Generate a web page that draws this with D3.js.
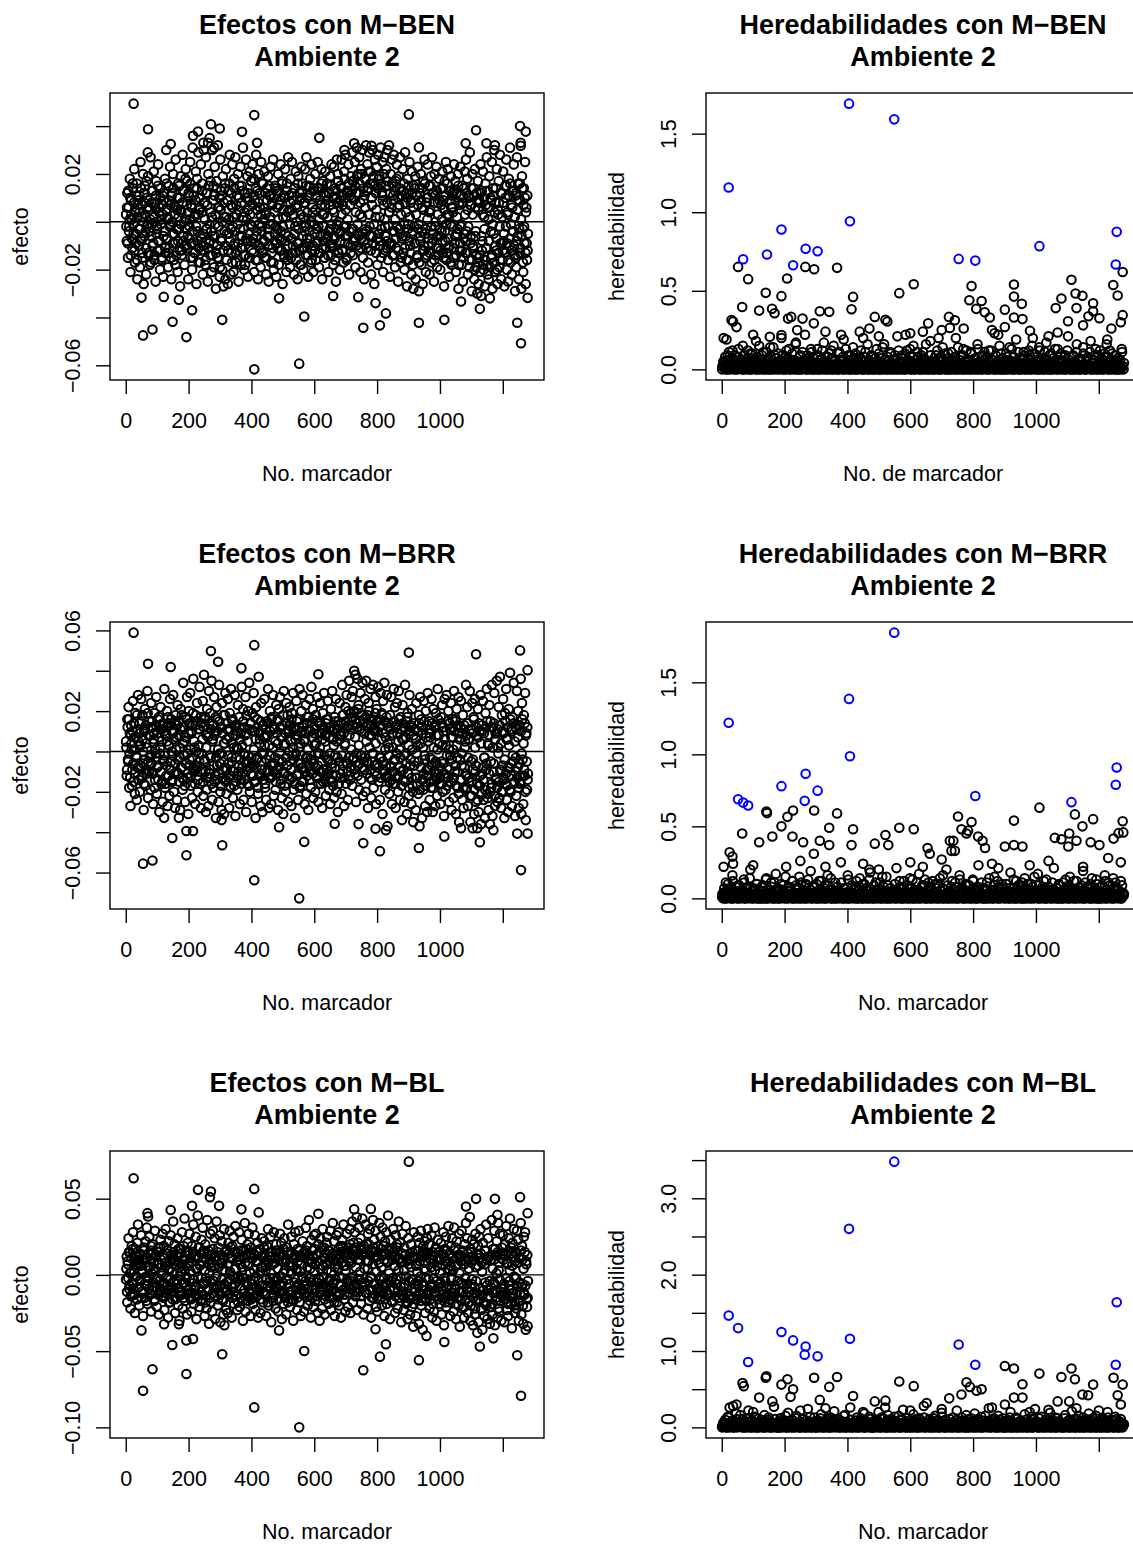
<!DOCTYPE html>
<html>
<head>
<meta charset="utf-8">
<script src="https://cdn.jsdelivr.net/npm/d3@7"></script>
<style>
  body { margin: 0; background: #fff; }
</style>
</head>
<body>
<script>
var width = 1133,
    height = 1545;

var FONT = "'Liberation Sans', Arial, Helvetica, sans-serif";

// markers 1..nMarkers; "A" arrays start at marker 1, "B" arrays at marker 2
var nMarkers = 1280;
var effStep = 2, herStep = 3;

// ---- effects, units of 0.001 ----
var benEffA = [
3,-8,12,-15,6,-2,18,-21,9,1,-11,14,-5,22,-17,4,-9,16,-24,7,
-3,11,-19,25,-7,2,-13,20,-26,8,15,-4,-22,10,-1,19,-14,5,-18,27,
-6,13,-10,3,21,-16,8,-25,17,-2,-12,24,-8,6,-20,14,1,-15,11,-23,
9,-4,18,-13,30,-7,2,-19,15,-11,23,-1,-24,12,-5,20,-16,7,-9,26,
-14,5,-21,16,-3,10,-27,19,4,-12,28,-8,13,-18,1,22,-10,17,-6,-24,
11,-2,25,-15,7,-20,31,-9,14,-13,3,21,-26,18,-4,29,-11,6,-17,24,
-7,16,-22,33,-12,8,-18,27,-3,12,-25,20,-9,35,-14,4,-21,30,-6,15,
-19,23,-1,-28,17,-10,32,-15,6,-23,26,-8,11,-20,19,-27,2,14,-24,22,
-16,9,-26,13,-5,28,-22,7,-13,24,-2,-21,18,-9,27,-17,3,-12,20,-25,
10,-6,23,-18,15,-11,31,-3,-20,12,-14,26,-8,19,-23,5,-15,21,-1,17,
-12,24,-7,18,-21,9,-16,28,-4,13,-24,20,-10,6,-19,25,-2,-13,16,-8,
21,-15,3,-22,14,-6,19,-25,11,-1,23,-17,8,-11,26,-20,4,15,-9,-23,
13,-3,20,-18,7,-12,24,-8,17,-26,2,11,-15,22,-5,-21,16,-10,27,-14,
5,-19,18,-7,25,-13,9,-22,14,-2,21,-16,6,-24,19,-9,12,-18,3,23,
-11,16,-20,8,-4,22,-14,27,-7,10,-23,15,-1,18,-17,24,-12,4,-21,13,
-5,20,-16,11,-9,25,-2,-19,14,-13,7,22,-24,17,-8,3,-15,21,-11,9,
16,-6,-21,12,-3,19,-14,24,-10,5,-18,23,-7,14,-25,10,-1,20,-13,8,
-20,15,-4,26,-12,7,-17,21,-9,28,-2,-16,13,-6,24,-22,11,-10,19,-3,
29,-14,17,-8,25,-19,12,31,-5,20,-12,27,3,-21,22,-7,30,-15,9,-24,
18,-3,32,-11,24,-17,14,29,-6,21,-22,10,30,-9,16,-26,26,2,-13,23,
-18,28,-5,19,-10,31,-15,12,25,-21,7,27,-2,-12,22,-8,30,-16,15,4,
-23,20,-9,26,-14,11,28,-4,-19,17,-11,24,6,-25,19,-3,27,-17,13,-7,
22,-13,16,-20,29,-6,12,-27,18,-1,-16,25,-10,8,-22,21,-4,-28,15,-9,
19,-24,11,-15,23,-3,-29,14,-8,20,-18,6,-26,17,-12,26,-5,-21,10,-14,
24,-10,15,-22,5,19,-17,27,-7,12,-25,20,-2,-14,23,-19,8,-11,18,-6,
-20,14,-4,21,-13,9,-27,17,-8,25,-16,3,22,-11,-23,13,-1,19,-18,11,
6,-15,24,-9,17,-21,12,-5,20,-28,8,-12,23,-2,-18,15,-25,10,-7,21,
-13,26,-4,18,-22,11,-16,29,-9,7,-29,20,-11,14,-24,22,-6,-19,12,-30,
17,-26,9,-14,24,-31,13,-8,21,-20,2,-27,16,-11,27,-18,6,-24,19,-32,
10,-15,25,-28,14,-5,30,-21,8,-12,22,-26,3,17,-19,28,-9,-24,12,-16,
21,-8,-27,15,-13,26,-20,4,-25,18,-10,31,-17,7,-22,13,-4,24,-14,-29,
11,-19,27,-6,16,-24,9,-13,33,-28,19,-3,-21,14,-9,25,-26,6,-16,-12
];
var benEffB = [
-2,6,-9,13,-4,1,10,-14,3,-7,16,-1,8,-12,5,-5,11,-16,2,9,
-10,4,-3,14,-8,7,-15,0,12,-6,3,-11,17,-2,6,-13,9,-4,1,-17,
8,-1,13,-9,2,-14,6,11,-5,-3,15,-8,4,-12,10,-1,-16,7,3,-6,
12,-4,-11,5,16,-7,1,-13,9,-2,7,-15,11,0,-9,14,-5,3,-18,6,
-3,10,-8,2,15,-12,5,-1,-14,8,13,-6,0,-10,18,-3,7,-11,4,12,
-7,1,16,-9,6,-4,-15,11,2,-13,9,-2,14,-8,3,-17,10,5,-6,-12,
4,13,-5,-10,8,1,-16,12,-3,7,-11,15,-1,-8,17,-4,2,-14,9,-9,
11,-6,3,-13,14,-15,6,-2,10,-19,5,13,-7,0,-12,8,-4,16,-10,2,
-5,9,-12,1,16,-8,-3,12,-17,6,2,-10,14,-4,-13,7,11,-1,-9,5,
15,-3,-11,8,-6,13,2,-14,4,-18,10,-7,1,12,-5,-15,9,3,-8,17,
-2,7,-13,11,0,-9,14,-6,5,-16,8,-1,12,-11,3,-4,16,-12,6,1,
-8,12,4,-15,9,-3,-10,15,-6,2,11,-13,7,-1,-17,10,-5,14,-2,-9,
6,-11,1,13,-7,9,-4,-12,16,-2,5,-14,10,-8,2,13,-16,4,-6,11,
-1,8,-15,5,12,-10,3,-5,14,-13,7,0,-9,16,-3,-12,9,1,-18,10,
13,-6,2,-11,8,-2,15,-9,4,-14,11,-4,-7,12,0,-16,6,-10,14,-1,
-12,5,10,-3,-8,14,-13,1,9,-6,16,-11,3,-2,12,-15,7,-5,11,-7,
2,-14,12,-4,7,-9,15,-1,-11,10,-6,4,-16,13,-3,8,-12,17,0,-5,
9,-8,14,3,-12,11,-2,18,-6,5,-15,12,1,-9,16,-4,7,-13,10,13,
17,-3,9,-7,15,4,-10,19,-1,12,-6,16,8,-11,20,2,-5,14,-8,11,
6,18,-4,13,-9,21,3,-2,16,-12,10,7,-6,19,-1,15,-10,12,5,-7,
14,-5,18,2,-8,16,-3,11,9,-13,20,1,-6,15,-11,8,17,-2,4,-9,
12,-10,6,16,-4,9,-14,13,1,-7,18,-2,10,-12,7,14,-5,3,-15,11,
-6,13,-1,-11,8,4,-16,10,-3,15,-8,2,-13,9,-5,12,-18,6,-2,14,
-9,3,11,-14,7,-1,-17,12,-6,9,-4,14,-12,5,-10,16,-3,-15,8,1,
10,-7,4,-13,15,-2,-9,12,-5,8,-16,11,0,-11,13,-6,3,-14,9,-3,
-12,7,1,-8,14,-15,5,-4,11,-1,-13,16,-7,3,-10,9,-17,6,-2,12,
4,-11,13,-6,9,-14,2,-3,15,-18,7,-9,11,-1,-12,8,-15,14,-5,3,
-8,12,-13,5,-2,10,-19,7,-6,14,-16,3,-10,11,-20,6,-4,-14,9,-17,
5,-15,8,-21,12,-6,-12,3,-18,10,-3,-16,7,-11,13,-22,1,-8,6,-19,
-4,9,-14,-1,11,-17,4,-10,14,-7,-20,5,-13,8,-2,-16,12,-9,2,-12,
8,-5,-13,10,-2,15,-9,3,-16,11,-7,16,-1,-12,6,-4,13,-10,2,-15,
12,-8,5,-14,9,-3,16,-11,1,-6,14,-17,7,-2,10,-13,4,-9,11,-5
];
var benEffExtra = [
[25,0.0494],[71,0.0387],[409,0.0446],[901,0.0449],[616,0.0351],[1115,0.0383],[1255,0.0400],
[1273,0.0377],[271,0.0408],[299,0.0390],[230,0.0377],[214,0.0360],[370,0.0376],[143,0.0325],
[727,0.0328],[782,0.0318],[838,0.0320],[933,0.0311],[1082,0.0328],[1148,0.0328],[1175,0.0320],
[1257,0.0318],[672,0.0260],[70,0.0290],[262,0.0330],[248,0.0300],[281,0.0310],[418,0.0330],[696,0.0300],
[409,-0.0617],[552,-0.0593],[55,-0.0475],[85,-0.0450],[149,-0.0418],[193,-0.0482],[307,-0.0410],
[568,-0.0396],[756,-0.0443],[809,-0.0433],[828,-0.0383],[933,-0.0422],[1014,-0.0410],[1246,-0.0422],
[1258,-0.0508],[1279,-0.0318],[1127,-0.0364],[1067,-0.0333],[795,-0.0340],[488,-0.0320],[50,-0.0317],
[121,-0.0314],[169,-0.0326],[211,-0.0370],[740,-0.0315],[660,-0.0310]
];

var brrEffA = [
5,-12,16,-4,22,-18,9,-27,13,1,-9,25,-15,7,-21,19,-2,-24,11,28,
-8,14,-20,3,26,-13,18,-6,-29,10,21,-17,4,-11,30,-23,8,15,-3,-19,
24,-10,12,-26,6,19,-14,-1,27,-21,9,-7,17,-30,2,22,-16,11,-25,13,
-5,31,-18,8,-12,20,-27,14,3,-22,26,-9,16,-15,-2,28,-20,10,-28,18,
7,-24,23,-11,15,-3,-29,21,-8,12,-19,34,-14,5,-25,17,-6,27,-13,-31,
20,-4,29,-17,9,-23,13,36,-10,2,-26,18,-7,24,-20,11,-1,32,-16,-28,
14,-9,25,-22,38,-5,17,-30,8,21,-13,-27,30,-11,19,-3,35,-24,6,-18,
27,-15,10,-33,22,-7,16,-25,33,-1,-20,12,-29,24,-9,18,-31,4,29,-14,
-21,11,26,-6,-28,19,-12,31,-3,15,-23,8,-17,28,-32,13,2,-19,23,-10,
17,-26,6,-14,32,-8,21,-24,12,-2,27,-30,9,-16,20,-5,34,-20,14,-11,
-25,19,-7,29,-15,10,-33,22,-4,16,-21,37,-12,6,-27,24,-9,-30,13,-1,
26,-18,8,-24,15,-10,31,-28,3,20,-13,-26,17,-6,28,-22,11,-3,-19,23,
-9,16,-29,21,-4,27,-16,7,-23,13,-31,30,-11,4,-20,24,-7,18,-25,10,
22,-14,5,-27,19,-2,29,-19,12,-33,8,25,-12,16,-24,2,31,-17,-6,20,
-15,28,-8,13,-26,6,23,-21,17,-3,-29,11,26,-10,-18,32,-5,21,-23,9,
3,-20,18,-12,27,-7,-25,14,-1,24,-16,9,-28,19,-9,29,-14,5,-22,16,
-11,25,-4,-19,12,-26,21,-8,30,-15,6,-23,17,-2,26,-20,11,-30,15,-5,
24,-13,8,-21,33,-10,18,-27,3,22,-16,28,-6,-24,13,35,-12,19,-8,27,
-17,30,-3,20,-11,38,-25,14,36,-7,23,-19,11,29,-14,-2,34,-22,16,-9,
26,-20,35,-5,18,-28,24,8,-13,31,-23,15,-1,33,-18,10,-10,27,-26,21,
-6,32,-15,12,-24,29,-3,19,-31,25,-9,34,-19,7,-13,28,-37,14,2,-21,
18,-8,27,-26,9,-16,31,-4,22,-28,13,24,-12,-20,30,1,-24,17,-10,-34,
23,-14,6,-25,33,-1,15,-31,19,-11,-22,28,-7,12,-26,21,-17,-35,14,-5,
11,-29,24,-13,3,-21,18,-37,27,-8,16,-33,9,-19,25,-2,-27,20,-12,-30,
29,-9,15,-24,7,-18,26,-4,-30,21,-14,12,-27,19,-6,-22,31,-11,8,-16,
-26,17,-5,23,-20,10,-32,26,-13,3,28,-17,-8,20,-25,14,-2,24,-29,12,
7,-23,30,-10,16,-31,21,-3,-18,27,-35,9,-14,25,-7,-24,18,-28,13,2,
-19,33,-12,22,-27,6,-15,30,-35,11,-22,24,-4,17,-31,26,-10,-25,8,-38,
21,-30,14,-17,28,-36,10,-11,25,-24,-3,-33,19,-9,31,-21,4,-29,23,-36,
15,-18,33,-32,12,-6,29,-27,9,-14,35,-25,2,22,-23,37,-10,-28,18,-20,
26,-13,-33,19,-16,31,-24,6,-30,21,-8,39,-20,11,-27,17,-5,34,-15,-32,
12,-22,30,-8,20,-28,13,-16,36,-31,24,-4,-26,18,-12,29,-34,9,-19,-14
];
var brrEffB = [
2,-9,12,-5,16,-1,-13,8,4,-17,10,-6,14,1,-11,7,-3,18,-8,5,
-14,9,3,-7,15,-12,6,0,-16,11,-4,13,-9,2,19,-5,-10,8,-2,12,
-6,15,-11,4,9,-18,1,13,-3,-8,16,-14,7,-1,11,-10,5,-15,14,-4,
10,-2,-16,12,-7,5,17,-12,3,-9,14,-5,0,-14,9,6,-11,15,-6,1,
-10,13,-4,8,-15,2,11,-8,18,-13,4,-2,12,-17,7,-6,16,-1,-11,9,
14,-7,1,-12,10,-3,19,-9,5,-16,13,0,-8,15,-14,3,-5,11,-10,17,
-1,6,-15,12,-4,16,-10,2,-19,9,7,-13,14,-2,-9,11,-16,5,13,-7,
8,-12,17,-3,-14,10,1,-11,15,-6,-17,12,-1,9,-13,4,-8,18,-15,6,
-9,14,-2,-13,7,11,-18,4,-5,16,-10,2,13,-15,8,-3,-12,10,1,-7,
12,-4,9,-16,3,-11,15,-1,-14,8,-6,18,-9,5,-2,-17,11,-8,14,-3,
-6,10,-12,1,17,-15,6,-8,12,-3,-18,9,4,-11,15,-5,-1,13,-14,7,
3,-16,11,-4,8,-9,14,-13,-2,10,-7,16,-12,2,-10,12,-6,5,-15,9,
-11,4,15,-8,-1,12,-14,7,-5,18,-10,3,-17,9,-3,14,-7,-12,11,0,
13,-5,-9,16,-13,2,-4,11,-16,6,-1,15,-11,8,-6,12,-18,4,10,-8,
-2,12,-15,5,9,-10,-3,14,-12,1,17,-7,-14,10,-4,7,-11,16,-6,3,
11,-8,4,-13,15,-1,-16,9,2,-10,13,-5,6,-15,11,-2,8,-12,14,-9,
-4,16,-10,7,-1,-14,12,-6,10,-17,3,11,-8,15,-12,5,-3,13,-16,8,
6,-11,14,-2,18,-7,9,-13,4,15,-5,12,-10,20,-3,8,-14,11,1,17,
13,-4,19,-9,7,16,-1,12,-12,21,3,-6,15,-2,10,18,-8,14,-5,9,
-3,17,5,-11,14,-6,20,2,-9,13,8,-14,16,-1,11,-7,19,4,-12,15,
10,-8,16,-3,13,-13,6,18,-5,9,-10,15,1,-7,17,-12,4,12,-2,-15,
-7,11,-14,8,2,-10,15,-4,-16,12,-1,9,-13,5,16,-8,-3,11,-17,6,
14,-9,-2,12,-15,7,-6,17,-11,3,-18,10,-4,13,-13,1,-20,8,-7,11,
-13,6,-1,-16,10,-5,14,-19,4,-8,12,-14,2,-11,15,-4,-17,7,-9,13,
5,-12,9,-3,-15,11,-7,14,-18,2,-10,13,-5,8,-14,1,16,-9,4,-13,
-8,14,-16,3,-6,12,-11,6,-19,10,-2,15,-13,1,-9,11,-15,7,-4,16,
1,-13,10,-7,15,-17,3,-10,13,-21,6,-4,12,-14,-1,9,-18,11,-8,5,
-11,8,-18,14,-3,-13,6,-22,11,-5,-15,9,-9,16,-19,2,-7,12,-16,-24,
7,-17,10,-12,4,-21,13,-8,-14,9,-3,-19,12,-6,15,-23,3,-11,8,-20,
-5,12,-16,2,-10,14,-22,6,-13,9,-18,11,-1,-15,13,-9,4,-20,10,-7,
9,-14,-4,15,-11,6,-17,12,-8,3,-19,16,-6,-12,10,-2,14,-16,5,-10,
-3,11,-13,7,-18,13,-6,-15,10,-1,16,-12,4,-9,14,-20,8,-5,12,-11
];
var brrEffExtra = [
[25,0.0589],[409,0.0527],[901,0.0490],[1255,0.0501],[271,0.0498],[71,0.0435],[294,0.0445],
[143,0.0419],[1115,0.0482],[1279,0.0403],[613,0.0383],[727,0.0400],[368,0.0413],
[552,-0.0728],[409,-0.0638],[1258,-0.0588],[55,-0.0556],[85,-0.0540],[193,-0.0514],[307,-0.0465],
[568,-0.0448],[148,-0.0429],[193,-0.0394],[214,-0.0394],[809,-0.0494],[756,-0.0454],[933,-0.0478],
[1127,-0.0450],[1014,-0.0421],[1246,-0.0407],[1279,-0.0407],[828,-0.0390],[795,-0.0383],[1170,-0.0390],
[1067,-0.0380],[1104,-0.0380],[488,-0.0375],[741,-0.0360],[665,-0.0358],[122,-0.0329],[169,-0.0329],[305,-0.0340]
];

var blEffA = [
-3,12,-18,7,24,-9,15,-22,2,19,-13,28,-6,9,-25,17,-1,-16,21,33,
8,-20,14,-4,26,-11,3,-27,18,10,-15,22,-7,31,-19,5,-2,25,-12,16,
-24,11,20,-8,4,-17,29,-3,13,-21,7,18,-26,15,-10,23,1,-14,27,-5,
19,-23,6,30,-12,14,-7,-28,22,3,-18,26,-9,11,-16,35,-4,20,-25,9,
13,-6,24,-20,8,-30,17,2,-13,28,-22,10,-5,37,-17,15,-1,-26,21,-10,
6,27,-15,11,-24,19,-3,33,-19,12,-8,25,-29,4,39,-13,18,-21,7,-11,
23,-16,31,-6,14,-27,20,-2,-22,36,-9,16,-32,10,27,-18,5,-24,29,-4,
-14,24,-29,12,35,-7,-20,18,-11,26,-31,8,22,-16,3,-26,30,-9,15,-23,
17,-5,-25,21,-13,29,-3,11,-28,19,-8,25,-19,4,32,-14,9,-23,14,-1,
28,-21,7,-15,23,-2,-30,16,-10,34,-24,13,-6,20,-17,27,-12,2,-27,18,
-9,31,-19,14,-4,26,-23,9,-14,21,-28,41,-11,17,-25,5,24,-7,-18,12,
22,-13,3,-27,19,-8,30,-20,12,-2,25,-31,15,-6,-17,28,-10,8,-22,20,
-4,16,-24,10,-12,27,-7,21,-29,13,1,-19,24,-15,9,-26,18,-3,33,-11,
14,-21,6,25,-16,11,-30,20,-5,28,-13,3,-23,17,-8,29,-18,12,-27,7,
-10,22,-2,-24,15,-12,31,-6,19,-20,9,36,-14,4,-28,23,-7,16,-21,26,
2,-17,27,-9,13,-25,20,-3,-30,24,-11,10,-22,30,-6,18,-26,7,-14,21,
25,-8,-19,16,-3,29,-23,12,-15,34,-5,22,-27,9,-12,26,-18,4,28,-20,
-13,19,-28,8,23,-10,33,-16,14,-24,6,27,-4,-21,18,-9,30,-25,11,-2,
35,-18,21,-7,28,-14,16,38,-23,10,-11,31,-3,24,-19,13,37,-8,-26,17,
-5,33,-12,20,-22,27,9,-17,30,-2,-28,15,-10,36,-15,23,-6,29,-21,12,
-24,19,-9,34,-16,25,-1,-20,31,-12,14,-27,22,-6,28,-19,8,39,-13,16,
-29,23,-4,17,-18,30,-10,12,-25,26,-3,20,-22,10,35,-15,21,-8,-31,14,
27,-11,-23,18,-6,32,-19,9,-29,24,-14,11,-26,20,-3,-21,15,-34,28,-9,
16,-27,7,-16,25,-4,-32,21,-12,29,-20,13,-36,19,-7,22,-25,3,-17,24,
30,-13,20,-22,10,-8,26,-28,15,-2,-24,31,-11,18,-30,6,23,-16,11,-19,
-6,21,-26,14,-10,28,-33,17,-4,25,-21,9,-14,32,-18,3,-27,19,-9,24,
12,-24,31,-7,18,-29,22,-15,7,-20,27,-34,13,-5,29,-22,16,-11,-28,20,
-17,34,-9,24,-25,10,-18,38,-30,15,-6,23,-33,20,-12,-26,27,-4,14,-38,
19,-31,25,-13,30,-22,8,-36,21,-10,-27,16,-19,33,-7,-29,24,-15,12,-32,
10,-21,36,-26,17,-5,29,-33,13,-17,22,-28,34,3,-24,27,-11,-30,18,-14,
26,-9,-31,20,-16,32,-23,7,-27,24,-4,37,-19,14,-35,21,-12,30,-20,-25,
15,-22,29,-8,23,-30,11,-17,34,-26,19,-6,-32,25,-13,28,-36,7,-21,-15
];
var blEffB = [
4,-11,9,-2,15,-7,1,-14,11,-5,17,-9,3,-13,7,-1,12,-16,6,10,
-8,13,-3,6,-15,10,2,-12,16,-6,8,-1,-17,11,-4,14,-9,5,-13,19,
1,-10,14,-5,9,-16,3,12,-8,-2,15,-13,7,-4,18,-11,5,-7,13,-15,
11,-6,-14,8,-1,16,-10,4,-18,9,-3,13,-12,2,-8,15,-5,10,-16,6,
-4,12,-9,17,-13,5,-1,14,-11,7,-6,19,-15,3,10,-8,-2,16,-12,8,
13,-5,2,-16,9,-12,15,-3,-10,12,-7,4,-14,11,-1,18,-9,6,-17,14,
-2,9,-13,16,-6,3,-18,11,-4,14,-10,7,1,-15,13,-5,8,-12,17,-8,
6,-14,12,-1,-9,15,-16,5,10,-7,-13,13,-3,8,-17,11,-6,3,-11,16,
-10,7,-4,14,-12,2,18,-8,-15,11,-1,-11,15,-6,4,-14,9,-2,-18,12,
10,-3,16,-9,5,-17,12,-2,-12,8,-5,17,-14,6,-7,13,-11,1,14,-16,
-6,11,-15,3,13,-8,-1,16,-13,9,-4,15,-10,2,-16,12,-7,5,-11,18,
14,-12,6,-3,10,-18,8,-5,15,-9,1,12,-15,7,-2,-13,11,-8,16,-4,
-9,4,-16,12,-7,14,-1,-11,9,-5,17,-12,3,-14,10,-3,15,-18,6,-6,
8,-13,1,15,-10,6,-17,11,-2,13,-8,4,-15,9,-6,16,-12,2,-9,12,
-1,14,-7,-12,11,-4,16,-14,5,-9,13,-2,-17,10,-5,8,-15,12,-3,17,
7,-10,13,-5,-14,9,-2,15,-11,4,-8,18,-13,6,-1,11,-16,14,-7,3,
-12,16,-4,9,-15,12,2,-9,14,-6,10,-18,5,-3,13,-11,7,-14,17,-1,
11,-7,15,-2,19,-10,6,-13,12,3,-8,16,-5,14,-12,9,20,-4,8,-9,
16,-1,12,-11,18,5,-6,14,-3,21,-9,10,2,-14,17,-5,13,-8,19,4,
-7,15,-12,9,4,-4,20,-10,13,-1,16,-15,7,18,-6,11,-13,15,2,-9,
12,-14,8,-3,17,-11,5,13,-8,19,-2,10,-16,14,-5,9,-12,16,1,-10,
-4,13,-17,10,-2,15,-9,6,-14,12,-6,18,-11,3,-15,11,-1,8,-13,14,
9,-8,3,-15,13,-1,-12,10,-18,7,-4,14,-16,5,-9,12,-3,-19,11,-6,
-11,6,-14,2,-7,16,-13,9,-1,-17,12,-5,15,-10,4,-16,8,-2,13,-12,
14,-3,-10,11,-16,5,-6,13,-19,8,-12,3,-14,17,-4,10,-8,15,-11,1,
-5,10,-15,7,-13,12,-2,-18,9,-8,16,-12,4,-7,14,-16,6,-3,11,-14,
3,-12,16,-9,6,-19,11,-4,13,-15,1,-11,9,-17,12,-6,15,-21,7,-2,
-13,9,-6,14,-18,4,-11,17,-20,8,-3,12,-15,10,-8,-22,5,-12,13,-17,
6,-16,11,-9,14,-23,2,-13,9,-18,7,-5,16,-20,10,-10,-14,12,-4,-21,
-8,13,-19,4,-12,10,-6,17,-15,1,-11,15,-22,8,-3,-17,11,-9,14,-13,
10,-6,-16,13,-2,-12,8,-19,15,-7,3,-14,18,-10,6,-15,12,-1,-18,9,
-2,14,-11,8,-17,12,-5,-13,16,-8,10,-20,4,-12,15,-7,9,-16,13,-4
];
var blEffExtra = [
[901,0.0743],[25,0.0634],[409,0.0564],[230,0.0558],[271,0.0547],[268,0.0510],[1255,0.0510],
[1115,0.0499],[1175,0.0499],[1279,0.0405],[143,0.0426],[69,0.0405],[71,0.0383],[211,0.0453],
[297,0.0453],[368,0.0430],[727,0.0430],[780,0.0433],[1083,0.0449],[613,0.0401],[1183,0.0394],
[552,-0.1000],[409,-0.0869],[55,-0.0760],[1258,-0.0793],[85,-0.0619],[193,-0.0650],[756,-0.0625],
[933,-0.0559],[809,-0.0536],[1246,-0.0527],[307,-0.0520],[568,-0.0499],[828,-0.0455],[1127,-0.0470],
[148,-0.0460],[193,-0.0430],[214,-0.0420],[1014,-0.0440],[1170,-0.0416],[50,-0.0364],[488,-0.0364],
[122,-0.0324],[169,-0.0324],[314,-0.0330],[795,-0.0356],[957,-0.0400],[1279,-0.0336]
];

// ---- heritabilities, units of 0.01 ----
var benHerA = [
0,2,1,5,0,3,9,1,0,4,2,12,0,1,6,3,0,8,2,1,
3,0,15,1,4,0,2,7,1,0,10,3,0,5,1,2,18,0,4,1,
0,6,2,1,11,0,3,1,0,7,2,14,0,1,4,0,9,2,1,3,
1,0,5,20,2,0,1,8,0,3,1,13,0,2,6,1,0,4,16,0,
2,1,0,9,3,0,1,5,22,1,0,2,7,0,1,11,3,0,4,1,
0,13,2,0,6,1,3,0,17,1,2,0,8,4,0,1,12,0,2,5,
1,0,3,10,0,2,1,6,0,19,1,3,0,2,9,0,1,4,0,14,
2,0,7,1,0,3,24,1,0,5,2,0,11,1,3,0,6,2,0,1,
8,0,1,4,13,0,2,1,0,7,3,0,16,1,2,0,5,1,0,10,
3,1,0,6,2,0,21,1,4,0,2,9,0,1,3,0,12,2,1,0,
5,0,1,15,2,0,3,1,8,0,4,1,0,11,2,0,6,1,3,0,
1,18,0,2,5,1,0,9,3,0,1,7,0,2,14,1,0,4,2,0,
10,1,0,3,6,0,2,1,20,0,4,1,0,8,2,0,13,1,3,0,
2,0,5,1,11,0,3,1,0,7,2,16,0,1,4,0,9,2,1,6,
0,3,1,12,0,2,6,1,0,23,1,3,0,5,2,0,10,1,0,4,
1,0,8,2,0,14,1,3,0,5,1,0,19,2,1,0,7,3,0,1,
11,0,2,4,1,0,9,2,0,15,1,3,0,6,2,0,1,12,0,3,
2,0,7,1,17,0,3,1,0,10,2,0,5,1,4,0,13,2,1,0,
6,1,0,3,9,0,2,21,1,0,4,1,8,0,2,0,11,3,1,0,
0,5,2,14,0,1,3,0,7,2,1,18,0,4,1,0,9,2,0,3,
1,12,0,2,6,0,3,1,16,0,2,5,1,0,10,2,0,4,1,0,
7,0,3,1,13,2,0
];
var benHerB = [
2,5,1,8,3,0,6,11,2,4,1,7,3,9,0,5,2,13,1,4,
6,2,0,9,3,5,1,12,4,0,7,2,10,3,1,6,0,8,2,15,
1,4,9,0,3,6,2,11,1,5,0,8,3,2,14,1,4,7,0,10,
3,1,6,2,9,0,5,3,12,1,7,2,0,4,10,2,6,1,17,3,
5,0,8,2,4,11,1,3,6,0,9,2,5,1,13,3,0,7,2,4,
1,9,3,0,6,2,12,1,4,8,0,5,3,10,1,2,7,0,15,3,
6,2,4,0,11,1,5,3,8,0,2,13,1,6,3,0,9,4,1,7,
2,10,0,4,6,1,3,12,2,0,8,5,1,3,16,0,4,2,9,1,
3,0,7,1,5,2,10,0,4,3,14,1,6,2,0,8,3,1,11,4,
0,6,2,9,1,3,0,12,5,2,7,1,4,0,10,3,1,6,2,13,
4,1,8,0,3,6,2,11,1,5,0,9,2,4,7,1,16,3,0,5,
2,9,1,4,0,7,3,2,12,1,5,0,8,3,6,1,10,2,0,4,
7,0,3,11,2,5,1,8,0,4,14,2,6,1,3,9,0,5,2,12,
1,6,3,0,10,2,4,1,7,3,0,13,1,5,2,8,0,4,11,1,
3,8,0,5,2,12,1,6,3,0,9,2,4,1,15,3,0,7,2,5,
0,10,3,1,6,2,4,13,0,8,1,3,5,2,11,0,4,1,7,3,
9,2,0,5,1,12,3,6,0,4,2,10,1,3,8,0,14,2,5,1,
4,0,11,2,6,1,3,9,0,5,2,7,1,13,3,0,6,4,1,10,
2,5,1,8,0,3,12,2,6,1,4,0,9,2,5,1,16,3,0,7,
6,1,3,10,2,0,5,1,8,3,11,0,4,2,6,1,13,3,0,9,
1,4,7,0,3,10,2,5,1,8,0,12,3,6,1,4,2,9,0,5,
3,1,6,0,11,2,4
];
var benHerExtra = [
[52,0.652],[266,0.652],[294,0.637],[367,0.646],[84,0.574],[208,0.578],[1276,0.620],[1246,0.537],
[1260,0.470],[611,0.542],[565,0.485],[418,0.461],[413,0.383],[140,0.487],[190,0.466],[65,0.397],
[119,0.374],[160,0.385],[168,0.357],[312,0.370],[342,0.366],[795,0.530],[930,0.540],[930,0.463],
[955,0.417],[827,0.435],[788,0.440],[810,0.385],[837,0.363],[853,0.330],[901,0.380],[930,0.330],
[957,0.320],[1113,0.570],[1148,0.468],[1126,0.483],[1182,0.420],[1081,0.451],[1063,0.390],[1102,0.306],
[1129,0.390],[1167,0.338],[1202,0.325],[1182,0.370],[487,0.334],[521,0.316],[527,0.305],[31,0.314],
[36,0.305],[47,0.269],[6,0.200],[15,0.190],[211,0.323],[221,0.334],[257,0.323],[293,0.293],[190,0.218],
[153,0.208],[657,0.293],[723,0.334],[742,0.313],[726,0.264],[1276,0.345],[901,0.270],[981,0.245],
[1069,0.235],[1227,0.190],[100,0.220],[240,0.250],[330,0.240],[380,0.220],[450,0.200],[500,0.210],
[600,0.230],[640,0.240],[690,0.200],[770,0.260],[860,0.250],[1040,0.210],[1150,0.280],[1240,0.260],
[1270,0.300],[470,0.260],[585,0.220],[700,0.250],[880,0.220],[990,0.200]
];
var benHerBlue = [
[405,1.691],[549,1.591],[22,1.157],[408,0.943],[1257,0.875],[190,0.890],[1011,0.784],[267,0.767],
[305,0.752],[144,0.731],[68,0.701],[754,0.703],[807,0.692],[227,0.663],[1254,0.667]
];

var brrHerA = [
1,0,4,2,11,0,3,1,7,0,2,16,0,1,5,3,0,9,1,2,
0,4,1,13,0,2,7,1,0,3,20,1,0,6,2,1,0,10,3,0,
2,1,8,0,5,1,0,14,2,0,3,1,11,0,4,2,0,17,1,0,
6,2,0,3,1,9,0,2,22,1,0,5,1,3,0,12,2,0,7,1,
0,3,15,1,0,2,6,0,1,10,3,0,4,1,19,0,2,1,8,0,
3,0,1,12,2,0,5,1,0,9,2,0,16,1,3,0,6,1,0,2,
11,0,1,4,2,0,25,1,3,0,7,2,0,1,13,0,4,1,2,0,
1,8,0,2,5,0,14,1,3,0,2,10,0,1,6,0,3,18,1,0,
4,1,0,11,2,0,7,1,3,0,15,2,0,1,5,0,9,2,0,3,
0,2,6,1,0,21,1,3,0,8,2,0,1,12,0,4,1,2,0,7,
2,0,13,1,0,3,5,0,1,17,2,0,4,1,9,0,3,1,0,11,
1,3,0,6,2,0,10,1,4,0,2,14,0,1,7,0,3,1,20,0,
0,5,1,2,12,0,3,1,0,8,2,0,16,1,4,0,6,2,0,1,
9,0,2,1,4,0,13,2,0,5,1,0,23,1,3,0,7,1,0,2,
1,11,0,3,1,0,6,2,0,15,1,4,0,2,8,0,1,10,3,0,
3,0,7,1,2,0,18,1,0,4,2,0,12,1,0,5,2,9,0,1,
0,14,1,3,0,6,2,0,10,1,3,0,5,2,1,17,0,4,1,0,
8,1,0,2,13,0,3,1,6,0,2,1,21,0,4,1,0,9,2,0,
2,0,11,1,4,0,7,2,0,15,1,3,0,5,1,0,12,2,1,0,
5,1,0,19,2,0,3,1,8,0,2,10,0,4,1,0,6,13,0,2,
1,0,4,9,0,2,16,1,0,3,11,2,0,5,1,14,0,2,7,1,
0,3,1,12,0,4,2
];
var brrHerB = [
3,1,7,0,5,2,10,1,4,6,0,12,2,3,8,1,5,0,9,2,
1,6,3,11,0,4,2,8,1,14,3,5,0,7,2,1,10,4,0,6,
5,0,2,9,3,1,13,0,6,2,4,1,8,3,0,11,2,5,1,7,
0,4,10,1,3,6,2,15,0,5,1,8,3,2,12,0,4,1,9,6,
2,7,0,4,11,1,3,5,0,9,2,13,1,6,3,0,8,2,4,1,
10,3,0,6,1,12,2,4,7,0,5,1,9,3,2,14,0,6,1,3,
4,0,8,2,5,1,11,3,0,7,2,4,1,16,0,5,3,9,2,1,
6,2,12,0,3,8,1,5,0,10,4,2,7,1,3,0,13,2,6,1,
0,9,3,1,6,2,4,11,0,5,2,8,1,3,15,0,4,2,7,1,
3,5,1,10,0,6,2,4,12,1,3,0,8,2,5,1,9,0,4,14,
1,7,2,0,5,3,11,1,6,0,4,2,9,3,1,13,0,5,2,8,
6,0,3,12,1,4,2,7,0,10,3,1,5,2,16,0,6,1,3,9,
2,4,0,8,1,6,3,11,2,0,5,1,13,4,2,7,0,3,10,1,
5,1,9,0,3,2,12,1,6,4,0,8,2,5,1,11,3,0,7,2,
0,6,2,14,1,3,5,0,9,2,4,1,12,0,6,3,1,8,2,4,
3,10,1,5,0,7,2,4,1,13,3,0,6,2,9,1,5,0,11,2,
7,0,4,2,10,1,3,6,0,8,2,15,1,4,3,0,9,5,1,6,
1,12,3,0,5,2,8,1,4,0,11,3,6,2,1,7,0,10,4,2,
4,0,6,2,13,1,3,9,0,5,2,7,1,12,3,0,6,4,1,8,
2,9,1,5,0,11,3,2,7,1,4,0,14,2,6,1,3,10,0,5,
0,5,3,8,1,2,12,0,6,3,1,9,2,4,0,7,1,11,3,2,
6,1,4,0,9,2,3
];
var brrHerExtra = [
[142,0.603],[144,0.592],[294,0.610],[227,0.610],[209,0.566],[367,0.590],[190,0.500],[1011,0.630],
[930,0.540],[752,0.568],[795,0.530],[763,0.480],[779,0.450],[784,0.470],[1124,0.583],[1182,0.550],
[1276,0.535],[1148,0.500],[1278,0.458],[1263,0.453],[1247,0.415],[565,0.490],[611,0.480],[418,0.480],
[342,0.490],[65,0.450],[161,0.430],[225,0.430],[119,0.390],[259,0.390],[312,0.400],[342,0.370],
[293,0.310],[521,0.440],[530,0.370],[487,0.380],[413,0.370],[1106,0.450],[1129,0.400],[1103,0.360],
[1060,0.420],[1081,0.410],[1174,0.390],[1202,0.370],[930,0.370],[957,0.360],[901,0.360],[816,0.430],
[830,0.400],[838,0.350],[726,0.400],[737,0.400],[731,0.330],[742,0.330],[655,0.350],[662,0.310],
[25,0.320],[34,0.290],[6,0.220],[36,0.240],[100,0.230],[250,0.260],[330,0.220],[450,0.240],
[500,0.200],[600,0.250],[640,0.220],[700,0.270],[860,0.240],[980,0.230],[1040,0.260],[1150,0.220],
[1230,0.280],[1270,0.250],[470,0.200],[880,0.210]
];
var brrHerBlue = [
[549,1.845],[405,1.385],[22,1.219],[408,0.987],[1257,0.909],[267,0.865],[1254,0.789],[190,0.779],
[305,0.748],[807,0.711],[52,0.688],[68,0.665],[84,0.645],[264,0.677],[1113,0.668]
];

var blHerA = [
0,3,1,6,0,2,14,1,0,4,1,9,0,2,1,18,0,3,7,1,
2,0,11,1,0,5,2,0,22,1,3,0,8,1,0,2,13,0,4,1,
0,7,1,2,0,16,3,0,1,10,2,0,5,1,0,27,1,3,0,6,
1,0,12,2,0,4,1,8,0,2,19,0,1,3,0,9,2,1,0,15,
3,1,0,7,2,0,11,1,4,0,2,24,0,1,6,0,3,1,13,0,
0,2,9,1,0,17,1,3,0,5,2,0,12,1,0,8,4,0,1,21,
2,0,6,1,10,0,3,1,0,15,2,0,7,1,4,0,26,1,2,0,
1,5,0,13,2,0,3,1,9,0,2,18,0,1,6,3,0,11,1,0,
4,0,2,8,1,0,20,2,0,3,1,12,0,5,1,0,16,2,0,7,
0,3,1,14,0,2,6,1,0,10,3,0,23,1,2,0,5,1,0,9,
2,1,0,17,3,0,7,1,0,12,2,0,4,1,28,0,2,6,1,0,
11,0,3,1,5,0,15,2,0,8,1,0,3,19,1,0,2,10,0,4,
1,0,6,2,0,13,1,3,0,22,2,0,7,1,0,9,1,4,0,16,
0,2,11,1,0,5,3,0,18,1,2,0,8,1,0,14,2,0,3,1,
7,0,1,25,2,0,4,1,10,0,3,1,0,15,2,0,6,1,12,0,
2,1,0,9,3,0,20,1,0,5,2,0,13,1,4,0,8,2,0,1,
0,17,1,3,0,7,2,0,11,1,0,4,24,1,2,0,6,1,0,14,
3,0,1,10,2,0,5,1,19,0,3,1,0,8,2,0,12,1,4,0,
1,6,0,2,16,0,3,1,9,0,2,21,0,1,5,0,11,2,1,0,
0,4,2,13,0,1,7,0,3,18,1,0,10,2,0,6,1,15,0,3,
2,0,8,1,12,0,4,1,0,20,2,0,5,1,9,0,3,14,1,0,
6,1,0,11,2,0,3
];
var blHerB = [
2,6,1,10,3,0,5,13,1,4,8,2,0,6,3,11,1,4,2,16,
4,1,8,0,5,2,12,3,1,7,0,9,2,5,14,1,3,0,6,2,
1,10,3,5,0,8,2,4,1,13,3,0,7,2,5,1,11,4,0,6,
3,0,9,2,6,1,4,15,0,5,2,8,1,3,10,0,6,2,12,1,
5,2,0,7,3,11,1,4,0,9,2,6,1,14,3,0,5,2,8,1,
0,7,4,1,12,2,5,0,8,3,1,10,2,6,0,13,1,4,3,9,
6,1,3,11,0,5,2,8,1,4,16,0,7,2,3,1,10,0,5,2,
1,9,2,4,0,7,3,12,1,5,2,0,8,3,6,1,14,2,0,4,
8,0,5,2,10,1,3,6,0,13,2,4,1,7,0,9,3,5,1,11,
2,4,0,8,1,6,3,15,0,5,2,10,1,3,7,0,12,2,4,1,
0,6,3,9,2,1,11,0,5,3,8,1,4,2,13,0,6,1,3,10,
4,1,7,0,12,2,5,1,9,3,0,6,2,14,1,4,0,8,3,2,
1,11,3,5,0,7,2,4,1,10,0,6,3,2,13,1,5,0,9,2,
7,0,4,2,12,1,3,8,0,5,2,11,1,6,3,0,9,4,1,15,
3,5,1,9,0,6,2,4,12,1,3,0,7,2,10,1,5,3,0,8,
0,8,2,5,1,13,3,0,6,2,4,1,11,0,7,3,2,9,1,5,
5,2,10,0,4,1,7,3,14,0,6,2,1,8,3,0,12,2,5,1,
2,7,0,4,11,1,3,6,0,9,2,5,1,13,0,4,3,8,1,6,
6,0,3,12,1,5,2,9,0,4,7,1,3,10,2,0,6,1,15,3,
1,9,4,0,6,2,11,1,3,8,0,5,2,12,1,4,0,7,3,2,
3,5,0,10,2,1,7,4,0,13,1,6,2,3,9,0,5,1,11,2,
0,8,3,1,6,2,4
];
var blHerExtra = [
[901,0.804],[930,0.770],[1011,0.704],[957,0.565],[1113,0.770],[1081,0.660],[1124,0.630],[1182,0.560],
[1148,0.430],[1166,0.420],[1247,0.650],[1276,0.560],[1260,0.420],[142,0.670],[140,0.650],[209,0.630],
[190,0.560],[227,0.500],[294,0.650],[367,0.660],[342,0.530],[66,0.580],[70,0.540],[565,0.600],
[611,0.540],[418,0.410],[119,0.390],[161,0.340],[312,0.360],[219,0.400],[779,0.590],[790,0.530],
[763,0.430],[827,0.500],[811,0.480],[487,0.340],[521,0.350],[724,0.380],[652,0.320],[901,0.300],
[930,0.390],[957,0.390],[1069,0.340],[1106,0.340],[1129,0.250],[36,0.280],[47,0.300],[25,0.260],
[100,0.200],[250,0.220],[330,0.250],[450,0.200],[600,0.220],[700,0.240],[860,0.260],[980,0.200],
[1040,0.230],[1200,0.220],[1270,0.300],[520,0.260]
];
var blHerBlue = [
[549,3.480],[405,2.600],[1257,1.639],[22,1.464],[52,1.300],[190,1.248],[408,1.160],[227,1.139],
[754,1.086],[267,1.060],[264,0.952],[305,0.930],[84,0.856],[807,0.821],[1254,0.821]
];

// ---- tick values and labels ----
var xTicks = [0, 200, 400, 600, 800, 1000, 1200];
var xTickLabels = ["0", "200", "400", "600", "800", "1000", ""];

var benEffTicks = [-0.06, -0.04, -0.02, 0, 0.02, 0.04];
var benEffLabels = ["\u22120.06", "", "\u22120.02", "", "0.02", ""];
var brrEffTicks = [-0.06, -0.04, -0.02, 0, 0.02, 0.04, 0.06];
var brrEffLabels = ["\u22120.06", "", "\u22120.02", "", "0.02", "", "0.06"];
var blEffTicks = [-0.10, -0.05, 0, 0.05];
var blEffLabels = ["\u22120.10", "\u22120.05", "0.00", "0.05"];
var benHerTicks = [0, 0.5, 1, 1.5];
var benHerLabels = ["0.0", "0.5", "1.0", "1.5"];
var brrHerTicks = [0, 0.5, 1, 1.5];
var brrHerLabels = ["0.0", "0.5", "1.0", "1.5"];
var blHerTicks = [0, 0.5, 1, 1.5, 2, 2.5, 3, 3.5];
var blHerLabels = ["0.0", "", "1.0", "", "2.0", "", "3.0", ""];

var panels = [
  {col: 0, row: 0, title: "Efectos con M\u2212BEN", ylab: "efecto", xlab: "No. marcador",
   clouds: [benEffA, benEffB], unit: 0.001, step: effStep, extra: benEffExtra, blue: [], ticks: benEffTicks, labels: benEffLabels, zero: true},
  {col: 1, row: 0, title: "Heredabilidades con M\u2212BEN", ylab: "heredabilidad", xlab: "No. de marcador",
   clouds: [benHerA, benHerB], unit: 0.01, step: herStep, extra: benHerExtra, blue: benHerBlue, ticks: benHerTicks, labels: benHerLabels, zero: false},
  {col: 0, row: 1, title: "Efectos con M\u2212BRR", ylab: "efecto", xlab: "No. marcador",
   clouds: [brrEffA, brrEffB], unit: 0.001, step: effStep, extra: brrEffExtra, blue: [], ticks: brrEffTicks, labels: brrEffLabels, zero: true},
  {col: 1, row: 1, title: "Heredabilidades con M\u2212BRR", ylab: "heredabilidad", xlab: "No. marcador",
   clouds: [brrHerA, brrHerB], unit: 0.01, step: herStep, extra: brrHerExtra, blue: brrHerBlue, ticks: brrHerTicks, labels: brrHerLabels, zero: false},
  {col: 0, row: 2, title: "Efectos con M\u2212BL", ylab: "efecto", xlab: "No. marcador",
   clouds: [blEffA, blEffB], unit: 0.001, step: effStep, extra: blEffExtra, blue: [], ticks: blEffTicks, labels: blEffLabels, zero: true},
  {col: 1, row: 2, title: "Heredabilidades con M\u2212BL", ylab: "heredabilidad", xlab: "No. marcador",
   clouds: [blHerA, blHerB], unit: 0.01, step: herStep, extra: blHerExtra, blue: blHerBlue, ticks: blHerTicks, labels: blHerLabels, zero: false}
];

// layout
var colX = [0, 596],
    rowY = [0, 529, 1058];
var box = {left: 110, right: 544, top: 93, bottom: 380};
var lw = 1.4;

var svg = d3.select("body").append("svg")
    .attr("width", width)
    .attr("height", height)
    .style("display", "block")
    .style("background", "#fff")
    .attr("font-family", FONT);

panels.forEach(drawPanel);

function drawPanel(p) {
  var g = svg.append("g")
      .attr("transform", "translate(" + colX[p.col] + "," + rowY[p.row] + ")");

  var pts = [];
  p.clouds.forEach(function(arr, k) {
    arr.forEach(function(v, i) { pts.push({m: 1 + k + i * p.step, v: v * p.unit, c: "#000"}); });
  });
  p.extra.forEach(function(d) { pts.push({m: d[0], v: d[1], c: "#000"}); });
  p.blue.forEach(function(d) { pts.push({m: d[0], v: d[1], c: "#0000ff"}); });

  // R style ranges: data extent padded by 4%
  var xpad = 0.04 * (nMarkers - 1);
  var x = d3.scaleLinear()
      .domain([1 - xpad, nMarkers + xpad])
      .range([box.left, box.right]);

  var ext = d3.extent(pts, function(d) { return d.v; });
  var ypad = 0.04 * (ext[1] - ext[0]);
  var y = d3.scaleLinear()
      .domain([ext[0] - ypad, ext[1] + ypad])
      .range([box.bottom, box.top]);

  var cx = (box.left + box.right) / 2,
      cy = (box.top + box.bottom) / 2;

  // title
  g.append("text").attr("x", cx).attr("y", 34)
      .attr("text-anchor", "middle").attr("font-size", 27).attr("font-weight", "bold")
      .text(p.title);
  g.append("text").attr("x", cx).attr("y", 66)
      .attr("text-anchor", "middle").attr("font-size", 27).attr("font-weight", "bold")
      .text("Ambiente 2");

  // points
  g.append("g").selectAll("circle")
      .data(pts)
      .enter().append("circle")
      .attr("cx", function(d) { return x(d.m); })
      .attr("cy", function(d) { return y(d.v); })
      .attr("r", 4.3)
      .attr("fill", "none")
      .attr("stroke", function(d) { return d.c; })
      .attr("stroke-width", 2);

  if (p.zero) {
    g.append("line")
        .attr("x1", box.left).attr("x2", box.right)
        .attr("y1", y(0)).attr("y2", y(0))
        .attr("stroke", "#000").attr("stroke-width", lw);
  }

  // axes
  var xa = g.append("g")
      .attr("transform", "translate(0," + box.bottom + ")")
      .call(d3.axisBottom(x).tickValues(xTicks).tickSize(14).tickPadding(19)
        .tickFormat(function(d, i) { return xTickLabels[i]; }));
  xa.select(".domain").remove();
  xa.attr("font-size", 21.5).attr("font-family", FONT);
  xa.selectAll("line").attr("stroke-width", lw);

  var ya = g.append("g")
      .attr("transform", "translate(" + box.left + ",0)")
      .call(d3.axisLeft(y).tickValues(p.ticks).tickSize(14)
        .tickFormat(function(d, i) { return p.labels[i]; }));
  ya.select(".domain").remove();
  ya.attr("font-size", 21.5).attr("font-family", FONT);
  ya.selectAll("line").attr("stroke-width", lw);
  ya.selectAll("text")
      .attr("transform", "rotate(-90)")
      .attr("x", 0)
      .attr("y", -30)
      .attr("dy", "0")
      .attr("text-anchor", "middle");

  // box
  g.append("rect")
      .attr("x", box.left).attr("y", box.top)
      .attr("width", box.right - box.left).attr("height", box.bottom - box.top)
      .attr("fill", "none").attr("stroke", "#000").attr("stroke-width", lw);

  // axis titles
  g.append("text").attr("x", cx).attr("y", 481)
      .attr("text-anchor", "middle").attr("font-size", 21.5)
      .text(p.xlab);
  g.append("text")
      .attr("transform", "translate(28," + cy + ") rotate(-90)")
      .attr("text-anchor", "middle").attr("font-size", 21.5)
      .text(p.ylab);
}
</script>
</body>
</html>
